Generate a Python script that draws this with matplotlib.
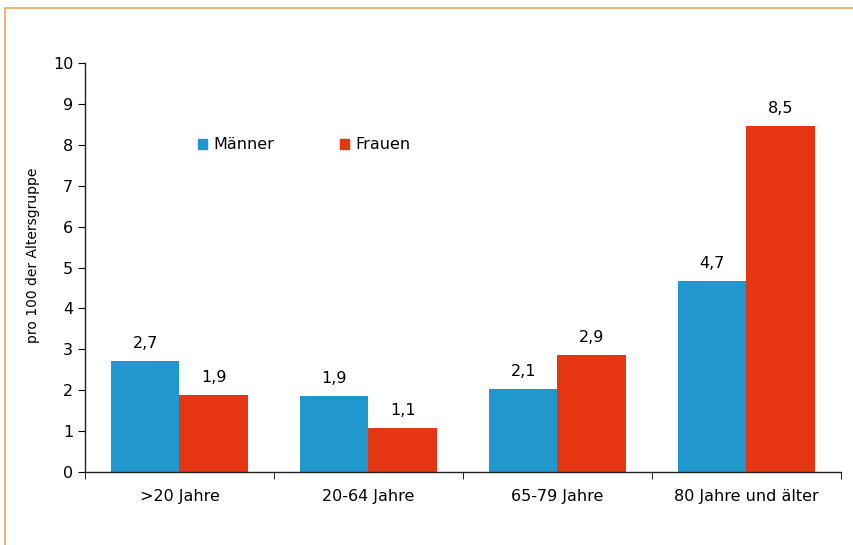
import matplotlib
matplotlib.use("Agg")
import matplotlib.pyplot as plt
import numpy as np
from matplotlib.lines import Line2D
from matplotlib.patches import Patch

plt.rcParams['font.family'] = ['DejaVu Sans']

categories = [">20 Jahre", "20-64 Jahre", "65-79 Jahre", "80 Jahre und älter"]
maenner = [2.71, 1.85, 2.03, 4.66]
frauen = [1.88, 1.07, 2.85, 8.46]
labels_m = ["2,7", "1,9", "2,1", "4,7"]
labels_f = ["1,9", "1,1", "2,9", "8,5"]

blue = "#2198CD"
red = "#E53512"

fig = plt.figure(figsize=(8.54, 5.45), dpi=100)
ax = fig.add_axes([85/854, 1-472/545, (841-85)/854, (472-63)/545])

x = np.arange(len(categories))
w = 0.363
ax.bar(x - w/2, maenner, w, color=blue, label="Männer")
ax.bar(x + w/2, frauen, w, color=red, label="Frauen")

fs = 11.5
for xi, v, t in zip(x - w/2, maenner, labels_m):
    ax.text(xi, v + 0.25, t, ha='center', va='bottom', fontsize=fs)
for xi, v, t in zip(x + w/2, frauen, labels_f):
    ax.text(xi, v + 0.25, t, ha='center', va='bottom', fontsize=fs)

ax.set_xlim(-0.5, len(categories) - 0.5)
ax.set_ylim(0, 10)
ax.set_yticks(range(0, 11))
ax.set_xticks(x)
ax.set_xticklabels(categories, fontsize=fs)
ax.tick_params(axis='x', length=0, pad=12)
ax.tick_params(axis='y', labelsize=fs, length=5, direction='out')
ax.set_xticks(np.arange(-0.5, len(categories), 1.0), minor=True)
ax.tick_params(axis='x', which='minor', length=5, direction='out')

for s in ['top', 'right']:
    ax.spines[s].set_visible(False)
for s in ['left', 'bottom']:
    ax.spines[s].set_linewidth(1.0)
    ax.spines[s].set_color('#222222')

ax.set_ylabel("pro 100 der Altersgruppe", fontsize=10)
ax.yaxis.set_label_coords(-0.059, 0.53)

handles = [Patch(color=blue), Patch(color=red)]
ax.legend(handles, ["Männer", "Frauen"], loc='upper left',
          bbox_to_anchor=(107/756, 1 - 68/409), ncol=2, frameon=False,
          fontsize=fs, handlelength=0.56, handleheight=0.56,
          handletextpad=0.4, columnspacing=4.1, borderaxespad=0)

border = "#EDB47E"
fig.add_artist(Line2D([5.5/854, 5.5/854], [0, 1 - 7.5/545], transform=fig.transFigure, color=border, lw=1.5))
fig.add_artist(Line2D([5.5/854, 1], [1 - 7.5/545, 1 - 7.5/545], transform=fig.transFigure, color=border, lw=1.5))

fig.savefig("out.png", dpi=100)
